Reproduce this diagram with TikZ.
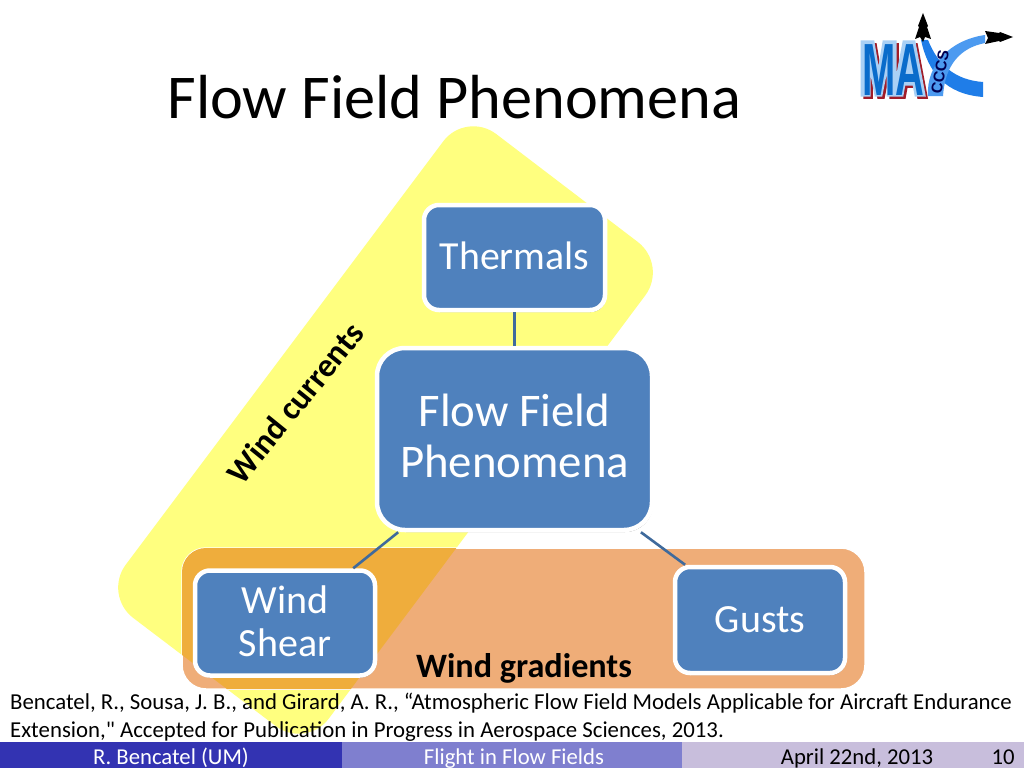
\documentclass[tikz,border=0pt]{standalone}
\usepackage{fontspec}
\setmainfont{Carlito}
\newfontfamily\logofont{Liberation Sans}
\newfontfamily\quotefont{Carlito}
\usetikzlibrary{shadows}
\definecolor{boxblue}{HTML}{4F81BD}
\definecolor{linkblue}{HTML}{3F6A9C}
\definecolor{zoneyellow}{HTML}{FFFF7F}
\definecolor{zoneorange}{HTML}{EFAD78}
\definecolor{zonemixed}{HTML}{EFAD3C}
\definecolor{footdark}{HTML}{3333B2}
\definecolor{footmid}{HTML}{7F7FCF}
\definecolor{footlight}{HTML}{C8BEDC}
\definecolor{logoblue}{HTML}{0A6CCB}
\definecolor{logoedge}{HTML}{A9D0F5}
\definecolor{logored}{HTML}{A01C28}
\definecolor{logoband}{HTML}{1F7DE8}
\definecolor{logobandb}{HTML}{4C9AF0}
\newcommand{\maoutline}{(862,42) -- (873,42) -- (878.5,75) -- (884,42) -- (895,42) -- (895,95) -- (888,95) -- (888,60) -- (881,95) -- (876,95) -- (869,60) -- (869,95) -- (862,95) -- cycle
  (904,42) -- (914,42) -- (924,95) -- (916,95) -- (914,84) -- (904,84) -- (902,95) -- (894,95) -- cycle}
\tikzset{
  phenbox/.style={draw=white,fill=boxblue,line width=4.5pt,text=white,align=center,rounded corners=15pt,
    drop shadow={shadow xshift=1pt,shadow yshift=-2pt,opacity=.5,fill=black}},
  link/.style={draw=linkblue,line width=2.6pt},
  footlabel/.style={font=\fontsize{22.7}{24}\selectfont,anchor=base},
  logotext/.style={font=\logofont\bfseries\fontsize{74}{74}\selectfont,xscale=.54,anchor=base west,inner sep=0pt}
}
\begin{document}
\begin{tikzpicture}[x=1pt,y=-1pt]
\useasboundingbox (0,0) rectangle (1024,768);
\fill[white] (0,0) rectangle (1024,768);
\fill[zoneyellow,rounded corners=38pt] (466,111) -- (668,265) -- (306,749) -- (103,595) -- cycle;
\filldraw[draw=white,fill=zoneorange,line width=1.5pt,rounded corners=24pt] (182,548) rectangle (865,689);
\begin{scope}
\clip[rounded corners=38pt] (466,111) -- (668,265) -- (306,749) -- (103,595) -- cycle;
\fill[zonemixed,rounded corners=24pt] (182,548) rectangle (865,689);
\end{scope}
\node (title) at (454.5,97) {\fontsize{62.3}{66}\selectfont Flow Field Phenomena};
\node[phenbox,minimum width=181pt,minimum height=105pt,text depth=4pt] (thermals) at (514.5,257.5) {\fontsize{39.8}{44}\selectfont Thermals};
\node[phenbox,minimum width=275pt,minimum height=182pt,rounded corners=28pt,text depth=6pt,font=\fontsize{46.8}{51}\selectfont] (flow) at (514.5,439) {Flow Field\\Phenomena};
\node[phenbox,minimum width=180pt,minimum height=105pt,text depth=3pt,font=\fontsize{40}{43}\selectfont] (windshear) at (285,623) {Wind\\Shear};
\node[phenbox,minimum width=170pt,minimum height=106pt] (gusts) at (760,620) {\fontsize{40}{44}\selectfont Gusts};
\draw[link] (thermals) -- (flow);
\draw[link] (flow) -- (windshear);
\draw[link] (flow) -- (gusts);
\node[rotate=51,font=\bfseries\fontsize{33.3}{38}\selectfont] (currents) at (295,403) {Wind currents};
\node[font=\bfseries\fontsize{34.2}{38}\selectfont,inner sep=0pt] (gradients) at (524,668) {Wind gradients};
\node[align=left,anchor=north west,inner sep=0pt,font=\fontsize{22.8}{27.7}\selectfont] (citation) at (10,693) {Bencatel, R., Sousa, J. B., and Girard, A. R., “Atmospheric Flow Field Models Applicable for Aircraft Endurance\\Extension,{\quotefont"} Accepted for Publication in Progress in Aerospace Sciences, 2013.};
\fill[footdark] (0,742) rectangle (342,768);
\fill[footmid] (342,742) rectangle (682,768);
\fill[footlight] (682,742) rectangle (1024,768);
\node[footlabel,text=white] (author) at (171,764) {R. Bencatel (UM)};
\node[footlabel,text=white] (talk) at (514,764) {Flight in Flow Fields};
\node[footlabel] (date) at (857,764) {April 22nd, 2013};
\node[footlabel] (page) at (1003,764) {10};
\fill[logoband] (921,40) .. controls (928,72) and (945,94) .. (983,97) -- (983,82) .. controls (955,80) and (938,65) .. (928,40) -- cycle;
\fill[logobandb] (928,96) .. controls (926,65) and (950,40) .. (985,35) -- (985,43) .. controls (960,48) and (945,65) .. (943,96) -- cycle;
\filldraw[logored,line width=2.5pt,shift={(2.5pt,-2.5pt)}] \maoutline;
\filldraw[draw=logoedge,fill=logoedge,line width=3pt] \maoutline;
\node[logotext,text=logoblue] (ma) at (862,95) {MA};
\node[rotate=80,inner sep=0pt,text=black!20!blue!40!black,font=\logofont\bfseries\fontsize{15.5}{15.5}\selectfont] (cccs) at (940,72) {CCCS};
\fill[black] (923,13) -- (928,26) -- (927,27) -- (931,39) -- (925,37) -- (923,42) -- (920,37) -- (915,39) -- (919,27) -- (918,26) -- cycle;
\fill[black] (1013,37) -- (1000,42) -- (999,41) -- (985,44) -- (988,38) -- (985,31) -- (999,33) -- (1000,32) -- cycle;
\end{tikzpicture}
\end{document}
